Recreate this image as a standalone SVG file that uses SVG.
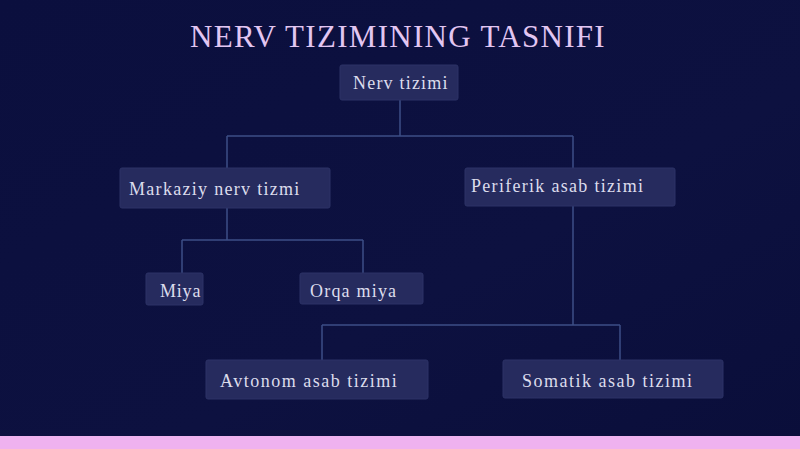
<svg xmlns="http://www.w3.org/2000/svg" width="800" height="449" viewBox="0 0 800 449">
<defs>
<style>
.box{fill:#262b5e;stroke:#2c3266;stroke-width:1}
.lbl{font-family:"Liberation Serif","DejaVu Serif",serif;font-size:18px;fill:#dcdcec;letter-spacing:1.5px}
.con{fill:none;stroke:#3c4e86;stroke-width:1.5}
</style>
<linearGradient id="bg" x1="0" y1="0" x2="1" y2="1">
<stop offset="0" stop-color="#0b0f3e"/>
<stop offset="0.6" stop-color="#0d1140"/>
<stop offset="1" stop-color="#0a0e3a"/>
</linearGradient>
</defs>
<rect x="0" y="0" width="800" height="449" fill="url(#bg)"/>
<rect x="0" y="436" width="800" height="13" fill="#efb2ef"/>
<text x="398" y="47" text-anchor="middle" font-family="'Liberation Serif','DejaVu Serif',serif" font-size="31" letter-spacing="1.3" fill="#e2c6f2">NERV TIZIMINING TASNIFI</text>
<g id="connectors">
<path class="con" d="M400,100 V136 M227,136 H573 M227,136 V170 M573,136 V168"/>
<path class="con" d="M227,208 V240 M182,240 H363 M182,240 V273 M363,240 V273"/>
<path class="con" d="M573,206 V325 M322,325 H620 M322,325 V360 M620,325 V360"/>
</g>
<g id="node-nerv">
<rect class="box" x="340" y="65" width="118" height="35" rx="2"/>
<text class="lbl" x="353" y="89" style="letter-spacing:1.2px">Nerv tizimi</text>
</g>
<g id="node-markaziy">
<rect class="box" x="120" y="168" width="210" height="40" rx="2"/>
<text class="lbl" x="129" y="195" style="letter-spacing:1.3px">Markaziy nerv tizmi</text>
</g>
<g id="node-periferik">
<rect class="box" x="465" y="168" width="210" height="38" rx="2"/>
<text class="lbl" x="471" y="192" style="letter-spacing:1.3px">Periferik asab tizimi</text>
</g>
<g id="node-miya">
<rect class="box" x="146" y="273" width="57" height="32" rx="2"/>
<text class="lbl" x="160" y="297" style="letter-spacing:0.8px">Miya</text>
</g>
<g id="node-orqa">
<rect class="box" x="300" y="273" width="123" height="31" rx="2"/>
<text class="lbl" x="310" y="297" style="letter-spacing:1.2px">Orqa miya</text>
</g>
<g id="node-avtonom">
<rect class="box" x="206" y="360" width="222" height="39" rx="2"/>
<text class="lbl" x="220" y="387">Avtonom asab tizimi</text>
</g>
<g id="node-somatik">
<rect class="box" x="503" y="360" width="220" height="38" rx="2"/>
<text class="lbl" x="522" y="387">Somatik asab tizimi</text>
</g>
</svg>
